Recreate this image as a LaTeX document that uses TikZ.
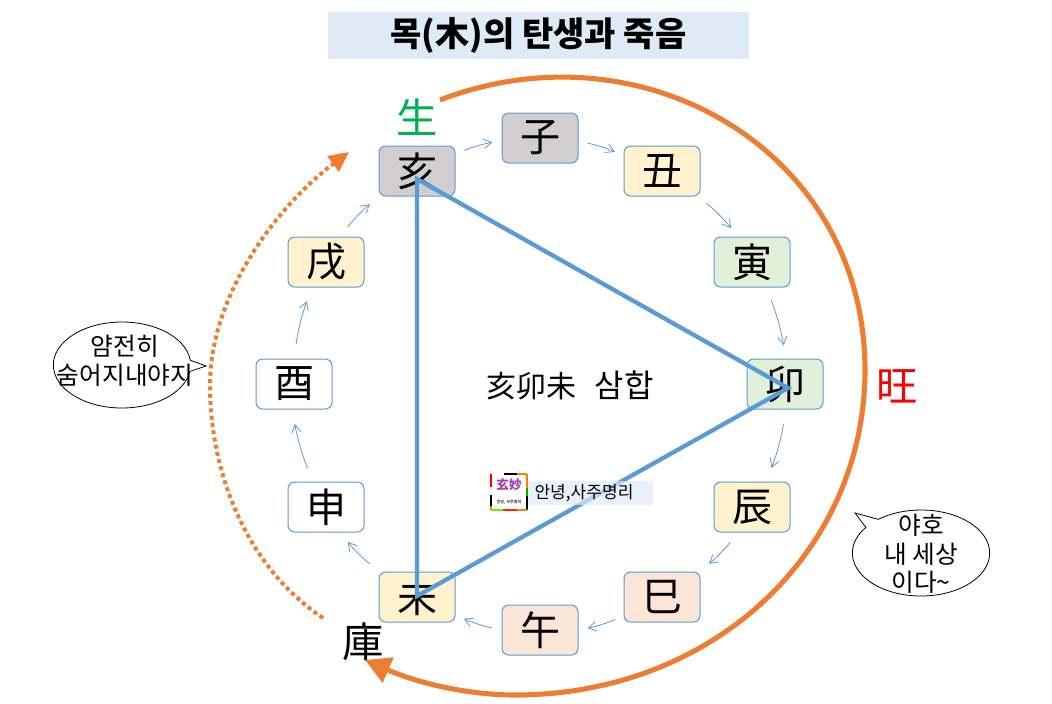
\documentclass[tikz,border=0pt]{standalone}
\usepackage{fontspec}
\setmainfont{Noto Sans CJK KR}
\usetikzlibrary{arrows.meta,shapes.callouts}
\definecolor{lineblue}{HTML}{5B9BD5}
\definecolor{arcorange}{HTML}{ED7D31}
\definecolor{cellgray}{HTML}{D0CECE}
\definecolor{cellyellow}{HTML}{FFF2CC}
\definecolor{cellgreen}{HTML}{E2F0D9}
\definecolor{cellpink}{HTML}{FBE5D6}
\definecolor{titleblue}{HTML}{DEEAF6}
\definecolor{saenggreen}{HTML}{00B050}
\definecolor{logopurple}{HTML}{A83EB0}
\tikzset{
    cell/.style={rectangle, draw=lineblue, line width=0.75pt, rounded corners=5pt, minimum width=57pt, minimum height=37.5pt, inner sep=0, font=\fontsize{30}{32}\selectfont},
    flow/.style={-{Straight Barb[length=6pt,width=7pt]}, lineblue, line width=0.6pt, bend left=6},
    side/.style={line width=3.2pt, lineblue},
    bigarc/.style={line width=3.8pt, arcorange, -{Triangle[length=19pt,width=20pt]}},
    dotarc/.style={line width=3pt, arcorange, dash pattern=on 3pt off 2.5pt, -{Triangle[length=15pt,width=14pt]}},
    bigchar/.style={inner sep=0, font=\fontsize{31}{33}\selectfont},
    talk/.style={ellipse callout, draw=black, line width=0.6pt, fill=white, inner sep=0, minimum width=103pt, minimum height=64.5pt},
    talktext/.style={inner sep=0, align=center, font=\fontsize{18.5}{21.5}\selectfont},
}
\begin{document}
\begin{tikzpicture}[x=0.75pt,y=-0.75pt]
    \useasboundingbox (0,0) rectangle (1052,703);
    \node[fill=titleblue, minimum width=315.75pt, minimum height=35.25pt, inner sep=0, font=\fontsize{25.5}{27}\selectfont\bfseries] (title) at (538.5,35) {목(木)의 탄생과 죽음};

    \node[cell, fill=cellgray] (hae) at (417,171) {亥};
    \node[cell, fill=cellgray] (ja) at (540,138) {子};
    \node[cell, fill=cellyellow] (chuk) at (662,171) {丑};
    \node[cell, fill=cellgreen] (yin) at (752,262) {寅};
    \node[cell, fill=cellgreen] (myo) at (785,384) {卯};
    \node[cell, fill=cellyellow] (jin) at (752,507) {辰};
    \node[cell, fill=cellpink] (sa) at (662,597) {巳};
    \node[cell, fill=cellpink] (oh) at (540,630) {午};
    \node[cell, fill=cellyellow] (mi) at (417,597) {未};
    \node[cell, fill=white] (shin) at (326,507) {申};
    \node[cell, fill=white] (yu) at (294,384) {酉};
    \node[cell, fill=cellyellow] (sul) at (326,262) {戌};

    \foreach \x/\a/\y/\b/\s in {hae/24/ja/184/7pt, ja/-5/chuk/158/7pt, chuk/-35/yin/119/8pt, yin/-61/myo/88/10pt, myo/-88/jin/61/11pt, jin/-119/sa/34/9pt, sa/206/oh/0/7pt, oh/180/mi/-25/7pt, mi/146/shin/-61/9pt, shin/117/yu/-94/11pt, yu/90/sul/-119/11pt, sul/61/hae/214/9pt} \draw[flow, shorten <=\s, shorten >=\s] (\x.\a) to (\y.\b);

    % triangle
    \coordinate (ta) at (417,179);
    \coordinate (tb) at (788,388);
    \coordinate (tc) at (417,596);
    \draw[side] (ta) -- (tb) -- (tc) -- cycle;

    \node[font=\fontsize{22.5}{24}\selectfont, inner sep=0] (samhap) at (570,385) {亥卯未\hspace{0.6em}{\fontsize{24}{24}\selectfont 삼합}};

    \node[bigchar, text=saenggreen] (saeng) at (417,117) {生};
    \node[bigchar, text=red] (wang) at (897,386) {旺};
    \node[bigchar] (go) at (363,642) {庫};

    \coordinate (bs) at (440,100);
    \coordinate (br) at (865,370);
    \coordinate (bb) at (515,695);
    \coordinate (be) at (365,660);
    \draw[bigarc] (bs) .. controls (643,22) and (865,151) .. (br) .. controls (865,550) and (715,695) .. (bb) .. controls (470,695) and (420,684) .. (be);

    \coordinate (ds) at (323,618);
    \coordinate (dl) at (210,385);
    \coordinate (de) at (349,152);
    \draw[dotarc] (ds) .. controls (248,568) and (210,475) .. (dl) .. controls (210,295) and (277,206) .. (de);

    \node[talk, callout absolute pointer={(206,366)}] (lefttalk) at (122,365) {};
    \node[talktext] (lefttext) at (125,361) {얌전히\\숨어지내야지};
    \node[talk, callout absolute pointer={(855,513)}] (righttalk) at (921,553) {};
    \node[talktext] (righttext) at (921,554) {야호\\내 세상\\이다\textasciitilde};

    % logo and band
    \node[fill=titleblue, fill opacity=0.7, text opacity=1, minimum height=18pt, text width=84pt, inner xsep=5pt, inner ysep=0, font=\fontsize{12.8}{14}\selectfont] (band) at (590.5,493) {안녕,사주명리};
    \node[fill=white, minimum width=27pt, minimum height=27pt, inner sep=0, align=center, font=\fontsize{9.5}{9.5}\selectfont\bfseries, text=logopurple] (logo) at (509,492) {玄妙\\[1pt]{\fontsize{3}{3}\selectfont\color{black!70}안녕, 사주명리}};
    \foreach \xa/\ya/\xb/\yb/\c in {491/474/491/487/red, 504/474/517/474/black, 517/474/527/474/orange, 527/474/527/488/orange, 527/488/527/496/green!70!black, 527/496/527/510/black, 527/510/517/510/orange, 517/510/503/510/red!70!orange, 503/510/491/510/green!70!yellow, 491/510/491/506/orange, 491/506/491/495/black} \draw[line width=1.1pt, \c] (\xa,\ya) -- (\xb,\yb);
\end{tikzpicture}
\end{document}
